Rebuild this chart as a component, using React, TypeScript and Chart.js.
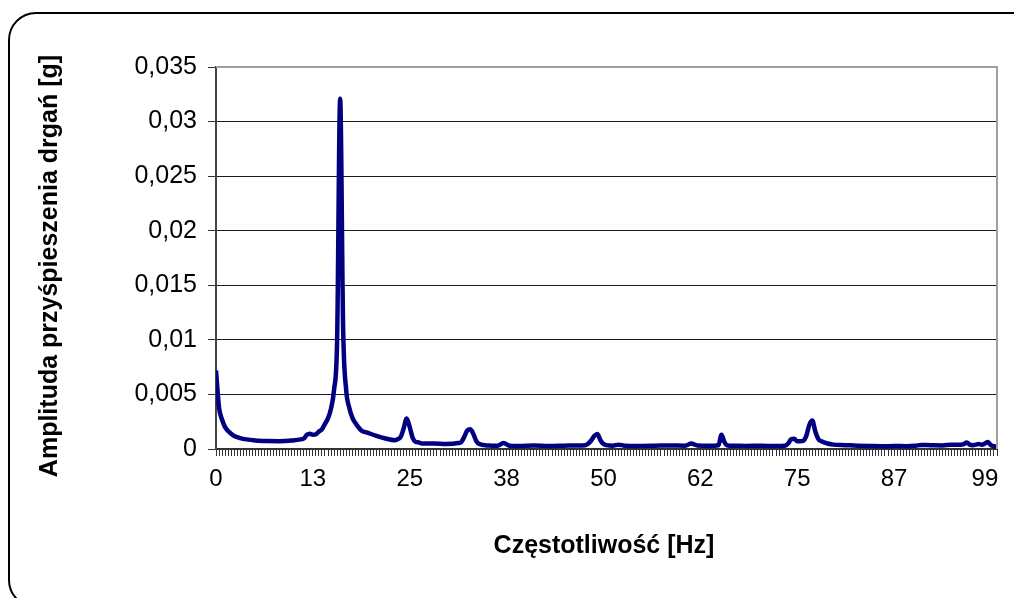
import React, { useEffect, useRef } from "react";
import { Chart, registerables } from "chart.js";

Chart.register(...registerables);

// Frequency (Hz) of each sampled point of the spectrum
const FREQ_HZ = [
  0, 0.39, 0.78, 1.17, 1.56, 1.95, 2.34, 3.13, 3.91, 5.08, 6.64, 8.2, 9.77, 10.94, 11.33, 11.72,
  12.11, 12.5, 12.89, 13.28, 13.67, 14.06, 14.45, 14.84, 15.23, 15.63, 16.02, 16.41, 16.8, 17.19,
  17.58, 17.97, 18.75, 19.53, 20.7, 21.88, 23.05, 23.44, 23.83, 24.22, 24.61, 25.0, 25.39, 25.78,
  26.17, 26.56, 28.13, 29.69, 31.25, 31.64, 32.03, 32.42, 32.81, 33.2, 33.59, 33.98, 35.16, 36.33,
  37.11, 37.89, 39.06, 41.02, 42.97, 44.92, 46.48, 47.66, 48.05, 48.44, 48.83, 49.22, 49.61, 50.0,
  50.39, 51.17, 51.95, 52.73, 54.69, 56.64, 58.59, 60.55, 61.33, 62.11, 63.67, 64.84, 65.23, 65.63,
  66.02, 66.8, 68.36, 70.31, 72.27, 73.44, 73.83, 74.22, 74.61, 75.0, 75.39, 75.78, 76.17, 76.56,
  76.95, 77.34, 77.73, 78.13, 78.91, 79.69, 81.25, 82.81, 84.38, 85.94, 87.5, 89.06, 90.23, 91.02,
  92.19, 93.75, 94.92, 96.09, 96.48, 96.88, 97.27, 97.66, 98.05, 98.44, 98.83, 99.22, 99.61, 100.0,
  100.39, 100.78,
];

// Vibration acceleration amplitude (g) at each frequency above
const AMPLITUDE_G = [
  0.0072, 0.0038, 0.0027, 0.002, 0.00165, 0.0014, 0.0012, 0.001, 0.00088, 0.00078, 0.00073, 0.00072,
  0.00078, 0.00088, 0.00096, 0.0013, 0.0014, 0.0013, 0.00135, 0.0016, 0.0018, 0.0023, 0.0028, 0.0037,
  0.0054, 0.01, 0.0321, 0.0109, 0.0054, 0.0038, 0.0029, 0.0024, 0.0017, 0.0015, 0.0012, 0.00096,
  0.0008, 0.0009, 0.0011, 0.0019, 0.0028, 0.002, 0.001, 0.00064, 0.0006, 0.0005, 0.0005, 0.00046,
  0.00055, 0.00064, 0.0011, 0.0017, 0.0018, 0.0014, 0.00073, 0.00046, 0.00032, 0.0003, 0.00055,
  0.0003, 0.00028, 0.00032, 0.00027, 0.0003, 0.00033, 0.00035, 0.0005, 0.0008, 0.0012, 0.00137,
  0.0008, 0.00045, 0.00035, 0.0003, 0.0004, 0.0003, 0.00028, 0.0003, 0.00033, 0.0003, 0.0005,
  0.00032, 0.0003, 0.00035, 0.0013, 0.0006, 0.00032, 0.0003, 0.00028, 0.0003, 0.00027, 0.0003,
  0.0005, 0.0009, 0.00095, 0.0007, 0.0007, 0.00075, 0.0012, 0.0022, 0.0026, 0.0016, 0.0009, 0.0007,
  0.0005, 0.0004, 0.00035, 0.0003, 0.00027, 0.00025, 0.00027, 0.00026, 0.0003, 0.00037, 0.00035,
  0.00033, 0.0004, 0.0004, 0.00045, 0.0006, 0.0004, 0.00035, 0.0004, 0.00045, 0.0004, 0.0005,
  0.00065, 0.00035, 0.00025, 0.0002,
];

// Category tick labels of the frequency axis and the frequency where each sits
const X_TICK_LABELS = ["0", "13", "25", "38", "50", "62", "75", "87", "99"];
const X_TICK_HZ = [0, 12.5, 25, 37.5, 50, 62.5, 75, 87.5, 99.22];
const BIN_HZ = 0.390625;
const BIN_COUNT = 259;

const Y_TICK_LABELS = ["0", "0,005", "0,01", "0,015", "0,02", "0,025", "0,03", "0,035"];
const Y_STEP = 0.005;

const X_TITLE = "Częstotliwość [Hz]";
const Y_TITLE = "Amplituda przyśpieszenia drgań [g]";

const FONT = '"Liberation Sans", Arial, sans-serif';

const framePlugin = {
  id: "frame",
  beforeDraw(chart: any) {
    const { ctx, width, height } = chart;
    ctx.save();
    ctx.fillStyle = "#ffffff";
    ctx.fillRect(0, 0, width, height);
    ctx.restore();
  },
  afterDraw(chart: any) {
    const { ctx, chartArea } = chart;
    ctx.save();
    // plot area border (top and right) in gray
    ctx.strokeStyle = "#a0a0a0";
    ctx.lineWidth = 2;
    ctx.beginPath();
    ctx.moveTo(chartArea.left, chartArea.top);
    ctx.lineTo(chartArea.right, chartArea.top);
    ctx.lineTo(chartArea.right, chartArea.bottom);
    ctx.stroke();

    // rounded chart border
    ctx.strokeStyle = "#000000";
    ctx.lineWidth = 2;
    ctx.beginPath();
    (ctx as any).roundRect(9, 13, 1032, 594, 27);
    ctx.stroke();

    // axis titles
    ctx.fillStyle = "#000000";
    ctx.font = `bold 25px ${FONT}`;
    ctx.textAlign = "center";
    ctx.textBaseline = "alphabetic";
    ctx.fillText(X_TITLE, 604, 553);

    ctx.translate(57, 266);
    ctx.rotate(-Math.PI / 2);
    ctx.fillText(Y_TITLE, 0, 0);
    ctx.restore();
  },
};

export default function App() {
  const canvasRef = useRef<HTMLCanvasElement | null>(null);

  useEffect(() => {
    const canvas = canvasRef.current;
    if (!canvas) return;
    const points = FREQ_HZ.map((f, i) => ({ x: f, y: AMPLITUDE_G[i] }));
    const chart = new Chart(canvas, {
      type: "line",
      data: {
        datasets: [
          {
            data: points,
            borderColor: "#000080",
            borderWidth: 4.5,
            pointRadius: 0,
            cubicInterpolationMode: "monotone",
            fill: false,
          },
        ],
      },
      options: {
        animation: false,
        responsive: false,
        devicePixelRatio: 1,
        layout: { padding: { left: 0, right: 17, top: 67, bottom: 0 } },
        plugins: {
          legend: { display: false },
          tooltip: { enabled: false },
        },
        scales: {
          x: {
            type: "linear",
            min: 0,
            max: (BIN_COUNT - 1) * BIN_HZ,
            afterBuildTicks(scale: any) {
              const ticks = [];
              for (let i = 0; i < BIN_COUNT; i++) ticks.push({ value: i * BIN_HZ });
              scale.ticks = ticks;
            },
            afterFit(scale: any) {
              scale.height = 598 - 449;
            },
            grid: {
              drawOnChartArea: false,
              drawTicks: true,
              tickLength: 7,
              color: "#333333",
              lineWidth: 1,
            },
            border: { color: "#333333", width: 2 },
            ticks: {
              autoSkip: false,
              maxRotation: 0,
              minRotation: 0,
              padding: 9,
              color: "#000000",
              font: { size: 24, family: FONT },
              callback(value: any) {
                const k = X_TICK_HZ.findIndex((h) => Math.abs(h - Number(value)) < 0.01);
                return k >= 0 ? X_TICK_LABELS[k] : "";
              },
            },
          },
          y: {
            min: 0,
            max: Y_STEP * (Y_TICK_LABELS.length - 1),
            afterFit(scale: any) {
              scale.width = 216;
            },
            grid: {
              color: "#1a1a1a",
              lineWidth: 1,
              drawTicks: true,
              tickLength: 8,
              tickColor: "#333333",
            },
            border: { color: "#444444", width: 2 },
            ticks: {
              stepSize: Y_STEP,
              padding: 11,
              color: "#000000",
              font: { size: 25, family: FONT },
              callback(value: any) {
                const k = Math.round(Number(value) / Y_STEP);
                return Y_TICK_LABELS[k] ?? "";
              },
            },
          },
        },
      },
      plugins: [framePlugin],
    });
    return () => chart.destroy();
  }, []);

  return (
    <div
      style={{
        position: "fixed",
        left: 0,
        top: 0,
        width: 1014,
        height: 598,
        overflow: "hidden",
        background: "#ffffff",
      }}
    >
      <canvas ref={canvasRef} width={1014} height={598} style={{ display: "block" }} />
    </div>
  );
}
